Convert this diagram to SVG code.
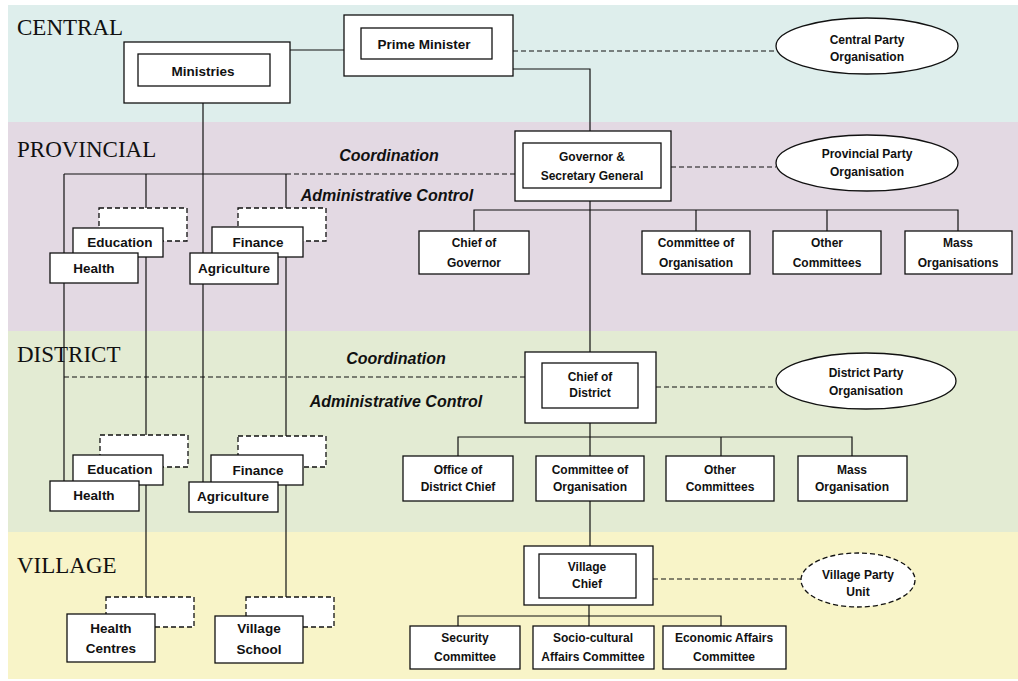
<svg xmlns="http://www.w3.org/2000/svg" width="1018" height="681" viewBox="0 0 1018 681">
<style>
.band-label{font-family:"Liberation Serif","Times New Roman",serif;font-size:23px;fill:#111}
.t{font-family:"Liberation Sans",Arial,sans-serif;font-weight:bold;font-size:12px;fill:#111;text-anchor:middle}
.tm{font-family:"Liberation Sans",Arial,sans-serif;font-weight:bold;font-size:13.5px;fill:#111;text-anchor:middle}
.lab{font-family:"Liberation Sans",Arial,sans-serif;font-weight:bold;font-style:italic;font-size:16px;fill:#111;text-anchor:middle}
.box{fill:#fff;stroke:#111;stroke-width:1.3}
.dbox{fill:#fff;stroke:#111;stroke-width:1.3;stroke-dasharray:5 3}
.ln{fill:none;stroke:#111;stroke-width:1.2}
.dl{fill:none;stroke:#111;stroke-width:1.2;stroke-dasharray:5 3}
</style>
<rect width="1018" height="681" fill="#fff"/>
<g id="bands">
<rect x="8" y="5" width="1010" height="117" fill="#deeeec"/>
<rect x="8" y="122" width="1010" height="209" fill="#e3d9e3"/>
<rect x="8" y="331" width="1010" height="201" fill="#e3ebd3"/>
<rect x="8" y="532" width="1010" height="147" fill="#f8f4c8"/>
<text class="band-label" x="17" y="35">CENTRAL</text>
<text class="band-label" x="17" y="157">PROVINCIAL</text>
<text class="band-label" x="17" y="362">DISTRICT</text>
<text class="band-label" x="17" y="573">VILLAGE</text>
</g>
<g id="labels">
<text class="lab" x="389" y="161">Coordination</text>
<text class="lab" x="387" y="201">Administrative Control</text>
<text class="lab" x="396" y="364">Coordination</text>
<text class="lab" x="396" y="407">Administrative Control</text>
</g>
<g id="connectors">
<path class="ln" d="M290,50 H344"/>
<path class="ln" d="M513,69 H590 V352"/>
<path class="dl" d="M513,51 H776"/>
<path class="dl" d="M671,167 H776"/>
<path class="dl" d="M286,174 H515"/>
<path class="ln" d="M64,174 H286"/>
<path class="ln" d="M203,103 V482"/>
<path class="ln" d="M64,174 V481"/>
<path class="ln" d="M146,174 V597"/>
<path class="ln" d="M286,174 V597"/>
<path class="ln" d="M474,231 V210 H958 V231"/>
<path class="ln" d="M696,210 V231"/>
<path class="ln" d="M827,210 V231"/>
<path class="dl" d="M64,377 H525"/>
<path class="dl" d="M656,387 H776"/>
<path class="ln" d="M590,423 V546"/>
<path class="ln" d="M458,456 V437 H852 V456"/>
<path class="ln" d="M721,437 V456"/>
<path class="dl" d="M653,579 H801"/>
<path class="ln" d="M458,626 V616 H721 V626"/>
<path class="ln" d="M589,605 V626"/>
</g>
<g id="ministries">
<rect class="box" x="124" y="42" width="166" height="61"/>
<rect class="box" x="138" y="54" width="132" height="32"/>
<text class="tm" x="203" y="76">Ministries</text>
</g>
<g id="prime-minister">
<rect class="box" x="344" y="15" width="169" height="61"/>
<rect class="box" x="361" y="28" width="131" height="31"/>
<text class="tm" x="424" y="49">Prime Minister</text>
</g>
<g id="central-party">
<ellipse class="box" cx="867" cy="46" rx="91" ry="28"/>
<text class="t" x="867" y="44">Central Party</text>
<text class="t" x="867" y="61">Organisation</text>
</g>
<g id="governor">
<rect class="box" x="515" y="131" width="156" height="70"/>
<rect class="box" x="523" y="143" width="138" height="45"/>
<text class="t" x="592" y="161">Governor &amp;</text>
<text class="t" x="592" y="180">Secretary General</text>
</g>
<g id="provincial-party">
<ellipse class="box" cx="867" cy="163" rx="91" ry="28"/>
<text class="t" x="867" y="158">Provincial Party</text>
<text class="t" x="867" y="176">Organisation</text>
</g>
<g id="prov-education">
<rect class="dbox" x="99" y="208" width="88" height="33"/>
<rect class="box" x="73" y="228" width="90" height="29"/>
<text class="tm" x="120" y="247">Education</text>
</g>
<g id="prov-health">
<rect class="box" x="50" y="253" width="88" height="30"/>
<text class="tm" x="94" y="273">Health</text>
</g>
<g id="prov-finance">
<rect class="dbox" x="238" y="208" width="88" height="33"/>
<rect class="box" x="212" y="227" width="91" height="30"/>
<text class="tm" x="258" y="247">Finance</text>
</g>
<g id="prov-agriculture">
<rect class="box" x="190" y="253" width="88" height="31"/>
<text class="tm" x="234" y="273">Agriculture</text>
</g>
<g id="chief-of-governor">
<rect class="box" x="419" y="231" width="110" height="43"/>
<text class="t" x="474" y="247">Chief of</text>
<text class="t" x="474" y="267">Governor</text>
</g>
<g id="prov-committee-org">
<rect class="box" x="642" y="231" width="108" height="43"/>
<text class="t" x="696" y="247">Committee of</text>
<text class="t" x="696" y="267">Organisation</text>
</g>
<g id="prov-other-committees">
<rect class="box" x="773" y="231" width="108" height="43"/>
<text class="t" x="827" y="247">Other</text>
<text class="t" x="827" y="267">Committees</text>
</g>
<g id="prov-mass-org">
<rect class="box" x="905" y="231" width="107" height="43"/>
<text class="t" x="958" y="247">Mass</text>
<text class="t" x="958" y="267">Organisations</text>
</g>
<g id="chief-of-district">
<rect class="box" x="525" y="352" width="131" height="71"/>
<rect class="box" x="542" y="363" width="96" height="45"/>
<text class="t" x="590" y="381">Chief of</text>
<text class="t" x="590" y="397">District</text>
</g>
<g id="district-party">
<ellipse class="box" cx="866" cy="381" rx="90" ry="28"/>
<text class="t" x="866" y="377">District Party</text>
<text class="t" x="866" y="395">Organisation</text>
</g>
<g id="dist-education">
<rect class="dbox" x="100" y="435" width="88" height="32"/>
<rect class="box" x="73" y="455" width="90" height="30"/>
<text class="tm" x="120" y="474">Education</text>
</g>
<g id="dist-health">
<rect class="box" x="50" y="481" width="89" height="30"/>
<text class="tm" x="94" y="500">Health</text>
</g>
<g id="dist-finance">
<rect class="dbox" x="238" y="436" width="88" height="31"/>
<rect class="box" x="211" y="455" width="92" height="30"/>
<text class="tm" x="258" y="475">Finance</text>
</g>
<g id="dist-agriculture">
<rect class="box" x="189" y="482" width="89" height="30"/>
<text class="tm" x="233" y="501">Agriculture</text>
</g>
<g id="office-district-chief">
<rect class="box" x="403" y="456" width="110" height="45"/>
<text class="t" x="458" y="474">Office of</text>
<text class="t" x="458" y="491">District Chief</text>
</g>
<g id="dist-committee-org">
<rect class="box" x="536" y="456" width="108" height="45"/>
<text class="t" x="590" y="474">Committee of</text>
<text class="t" x="590" y="491">Organisation</text>
</g>
<g id="dist-other-committees">
<rect class="box" x="666" y="456" width="108" height="45"/>
<text class="t" x="720" y="474">Other</text>
<text class="t" x="720" y="491">Committees</text>
</g>
<g id="dist-mass-org">
<rect class="box" x="798" y="456" width="109" height="45"/>
<text class="t" x="852" y="474">Mass</text>
<text class="t" x="852" y="491">Organisation</text>
</g>
<g id="village-chief">
<rect class="box" x="524" y="546" width="129" height="59"/>
<rect class="box" x="539" y="554" width="97" height="44"/>
<text class="t" x="587" y="571">Village</text>
<text class="t" x="587" y="588">Chief</text>
</g>
<g id="village-party">
<ellipse class="dbox" cx="858" cy="580" rx="57" ry="27"/>
<text class="t" x="858" y="579">Village Party</text>
<text class="t" x="858" y="596">Unit</text>
</g>
<g id="health-centres">
<rect class="dbox" x="106" y="597" width="88" height="30"/>
<rect class="box" x="67" y="614" width="88" height="48"/>
<text class="tm" x="111" y="633">Health</text>
<text class="tm" x="111" y="653">Centres</text>
</g>
<g id="village-school">
<rect class="dbox" x="246" y="597" width="88" height="30"/>
<rect class="box" x="215" y="616" width="88" height="47"/>
<text class="tm" x="259" y="633">Village</text>
<text class="tm" x="259" y="654">School</text>
</g>
<g id="security-committee">
<rect class="box" x="410" y="626" width="110" height="43"/>
<text class="t" x="465" y="642">Security</text>
<text class="t" x="465" y="661">Committee</text>
</g>
<g id="sociocultural-committee">
<rect class="box" x="533" y="626" width="121" height="43"/>
<text class="t" x="593" y="642">Socio-cultural</text>
<text class="t" x="593" y="661">Affairs Committee</text>
</g>
<g id="economic-committee">
<rect class="box" x="663" y="626" width="123" height="43"/>
<text class="t" x="724" y="642">Economic Affairs</text>
<text class="t" x="724" y="661">Committee</text>
</g>
</svg>
